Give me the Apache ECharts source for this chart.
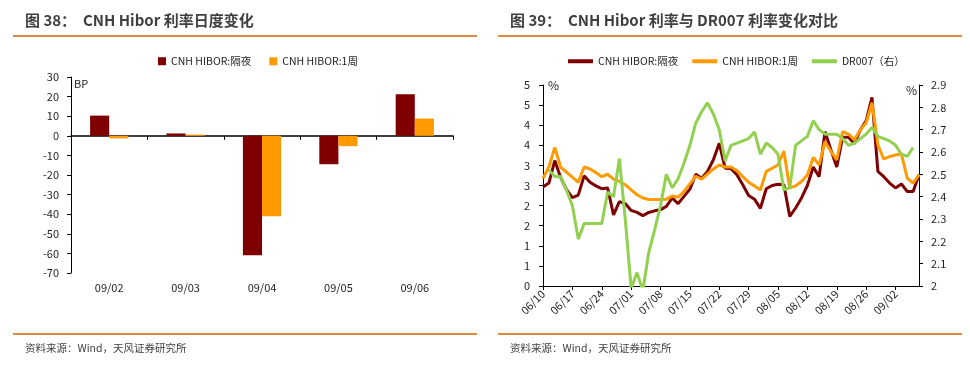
<!DOCTYPE html>
<html><head><meta charset="utf-8">
<script src="https://cdn.jsdelivr.net/npm/echarts/dist/echarts.min.js"></script>
<style>
body{margin:0;background:#fff;}
#c1{position:absolute;left:0;top:0;width:485px;height:368px;}
#c2{position:absolute;left:485px;top:0;width:485px;height:368px;}
</style>
</head><body><div id="c1"></div><div id="c2"></div>
<script>
// ---- Left chart data (BP) ----
const barDates = ['09/02','09/03','09/04','09/05','09/06'];
const barOvernight = [10.3, 1.2, -61, -14.5, 21.2];
const barWeek = [-1.3, 0.6, -41, -5.3, 8.8];
const barTicks = [-70, 30, 10]; // min, max, step

// ---- Right chart data ----
const lineDates = [
 '06/10','06/11','06/12','06/13','06/14',
 '06/17','06/18','06/19','06/20','06/21',
 '06/24','06/25','06/26','06/27','06/28',
 '07/01','07/02','07/03','07/04','07/05',
 '07/08','07/09','07/10','07/11','07/12',
 '07/15','07/16','07/17','07/18','07/19',
 '07/22','07/23','07/24','07/25','07/26',
 '07/29','07/30','07/31','08/01','08/02',
 '08/05','08/06','08/07','08/08','08/09',
 '08/12','08/13','08/14','08/15','08/16',
 '08/19','08/20','08/21','08/22','08/23',
 '08/26','08/27','08/28','08/29','08/30',
 '09/02','09/03','09/04','09/05','09/06'];
const hiborOvernight = [
 2.46,2.56,3.12,2.70,2.40,2.20,2.26,2.74,2.58,2.49,2.42,2.44,1.77,2.10,2.05,1.88,
 1.83,1.75,1.83,1.87,1.90,1.98,2.19,2.05,2.23,2.41,2.78,2.68,2.85,3.14,3.55,2.93,
 2.92,2.77,2.52,2.25,2.16,1.93,2.42,2.50,2.53,2.52,1.73,1.94,2.19,2.50,2.96,2.72,
 3.84,3.39,2.96,3.70,3.70,3.54,3.88,4.11,4.69,2.85,2.72,2.56,2.44,2.54,2.35,2.35,2.77];
const hiborWeek = [
 2.68,2.96,3.45,2.96,2.83,2.71,2.58,2.96,2.91,2.82,2.72,2.78,2.66,2.60,2.52,2.39,
 2.27,2.19,2.15,2.15,2.15,2.16,2.24,2.21,2.35,2.54,2.73,2.66,2.79,2.91,3.01,2.96,
 2.96,2.87,2.72,2.58,2.49,2.39,2.85,2.93,3.01,3.35,2.44,2.49,2.60,2.76,3.20,3.01,
 3.59,3.35,3.14,3.84,3.78,3.64,3.88,4.06,4.56,3.51,3.16,3.22,3.26,3.29,2.68,2.56,2.77];
const dr007 = [
 null,2.52,2.49,2.49,2.43,2.36,2.21,2.28,2.28,2.28,2.28,2.42,2.40,2.57,2.30,1.99,
 2.06,1.98,2.15,2.25,2.36,2.50,2.44,2.48,2.55,2.63,2.73,2.78,2.82,2.77,2.70,2.56,
 2.63,2.64,2.65,2.66,2.69,2.59,2.64,2.62,2.59,2.43,2.44,2.63,2.65,2.67,2.74,2.70,
 2.68,2.68,2.68,2.66,2.63,2.64,2.66,2.68,2.71,2.67,2.66,2.65,2.63,2.59,2.58,2.62,null];
const leftAxisRange = [0, 5, 0.5];
const rightAxisRange = [2, 2.9, 0.1];

const FF = '"Noto Sans CJK SC", "Liberation Sans", sans-serif';
const C_RED = '#7f0000', C_ORG = '#ff9a00', C_GRN = '#92d050';
const C_LINE = '#dc8b45', C_TXT = '#1e1e1e', C_TITLE = '#3f3f3f';

function frame(titleText, extra) {
  return [
    {type:'text', left:25, top:13, style:{text:titleText, font:'bold 15px ' + FF, fill:C_TITLE}},
    {type:'line', shape:{x1:13,y1:36,x2:477,y2:36}, style:{stroke:C_LINE, lineWidth:2}},
    {type:'line', shape:{x1:13,y1:334,x2:477,y2:334}, style:{stroke:C_LINE, lineWidth:2}},
    {type:'text', left:25, top:343, style:{text:'资料来源：Wind，天风证券研究所', font:'10.5px ' + FF, fill:C_TITLE}}
  ].concat(extra);
}

const c1 = echarts.init(document.getElementById('c1'));
c1.setOption({
  animation:false,
  textStyle:{fontFamily:FF},
  graphic: frame('图 38：  CNH Hibor 利率日度变化', [
    {type:'text', left:74, top:78, style:{text:'BP', font:'11px ' + FF, fill:C_TXT}}
  ]),
  legend:{left:153, top:51, icon:'rect', itemWidth:8, itemHeight:8, itemGap:18, itemStyle:{borderWidth:0},
    textStyle:{fontSize:10.5, color:C_TXT, fontFamily:FF}, data:['CNH HIBOR:隔夜','CNH HIBOR:1周']},
  grid:{left:71, right:32, top:77, bottom:95},
  xAxis:[
    {type:'category', data:barDates, position:'top',
     axisLine:{onZero:true, lineStyle:{color:'#000', width:1.5}},
     axisTick:{show:true, inside:true, length:4, lineStyle:{color:'#000'}},
     axisLabel:{show:false}},
    {type:'category', data:barDates, position:'bottom',
     axisLine:{show:false, onZero:false}, axisTick:{show:false},
     axisLabel:{color:C_TXT, fontSize:11, margin:9, fontFamily:FF}}
  ],
  yAxis:{type:'value', min:barTicks[0], max:barTicks[1], interval:barTicks[2],
    axisLine:{show:true, lineStyle:{color:'#000'}},
    axisTick:{show:true, length:4, lineStyle:{color:'#000'}},
    splitLine:{show:false},
    axisLabel:{color:C_TXT, fontSize:11, margin:12, fontFamily:FF}},
  series:[
    {name:'CNH HIBOR:隔夜', type:'bar', xAxisIndex:0, data:barOvernight, barWidth:'25%', barGap:'0%', itemStyle:{color:C_RED}},
    {name:'CNH HIBOR:1周', type:'bar', xAxisIndex:0, data:barWeek, barWidth:'25%', barGap:'0%', itemStyle:{color:C_ORG}}
  ]
});

const c2 = echarts.init(document.getElementById('c2'));
c2.setOption({
  animation:false,
  textStyle:{fontFamily:FF},
  graphic: frame('图 39：  CNH Hibor 利率与 DR007 利率变化对比', [
    {type:'text', left:63, top:79, style:{text:'%', font:'12px ' + FF, fill:C_TXT}},
    {type:'text', left:421, top:84, style:{text:'%', font:'12px ' + FF, fill:C_TXT}}
  ]),
  legend:{left:78, top:51, icon:'rect', itemWidth:25, itemHeight:4, itemGap:14,
    textStyle:{fontSize:10.5, color:C_TXT, fontFamily:FF},
    data:['CNH HIBOR:隔夜','CNH HIBOR:1周','DR007（右）']},
  grid:{left:58, right:51, top:85, bottom:82},
  xAxis:{type:'category', data:lineDates, boundaryGap:false,
    axisLine:{lineStyle:{color:'#000'}},
    axisTick:{show:true, interval:4, length:4, lineStyle:{color:'#000'}},
    axisLabel:{interval:4, rotate:45, color:C_TXT, fontSize:11, margin:6, fontFamily:FF}},
  yAxis:[
    {type:'value', min:leftAxisRange[0], max:leftAxisRange[1], interval:leftAxisRange[2],
     axisLine:{show:true, lineStyle:{color:'#000'}},
     axisTick:{show:true, length:4, lineStyle:{color:'#000'}},
     splitLine:{show:false},
     axisLabel:{color:C_TXT, fontSize:11, margin:13, fontFamily:FF, formatter:v => String(Math.round(v))}},
    {type:'value', min:rightAxisRange[0], max:rightAxisRange[1], interval:rightAxisRange[2], position:'right',
     axisLine:{show:true, lineStyle:{color:'#000'}},
     axisTick:{show:true, length:4, lineStyle:{color:'#000'}},
     splitLine:{show:false},
     axisLabel:{color:C_TXT, fontSize:11, margin:12, fontFamily:FF}}
  ],
  series:[
    {name:'CNH HIBOR:隔夜', type:'line', yAxisIndex:0, data:hiborOvernight, showSymbol:false, symbol:'none',
     lineStyle:{color:C_RED, width:3}, itemStyle:{color:C_RED}},
    {name:'CNH HIBOR:1周', type:'line', yAxisIndex:0, data:hiborWeek, showSymbol:false, symbol:'none',
     lineStyle:{color:C_ORG, width:3}, itemStyle:{color:C_ORG}},
    {name:'DR007（右）', type:'line', yAxisIndex:1, data:dr007, showSymbol:false, symbol:'none',
     lineStyle:{color:C_GRN, width:3}, itemStyle:{color:C_GRN}}
  ]
});
</script>
</body></html>
